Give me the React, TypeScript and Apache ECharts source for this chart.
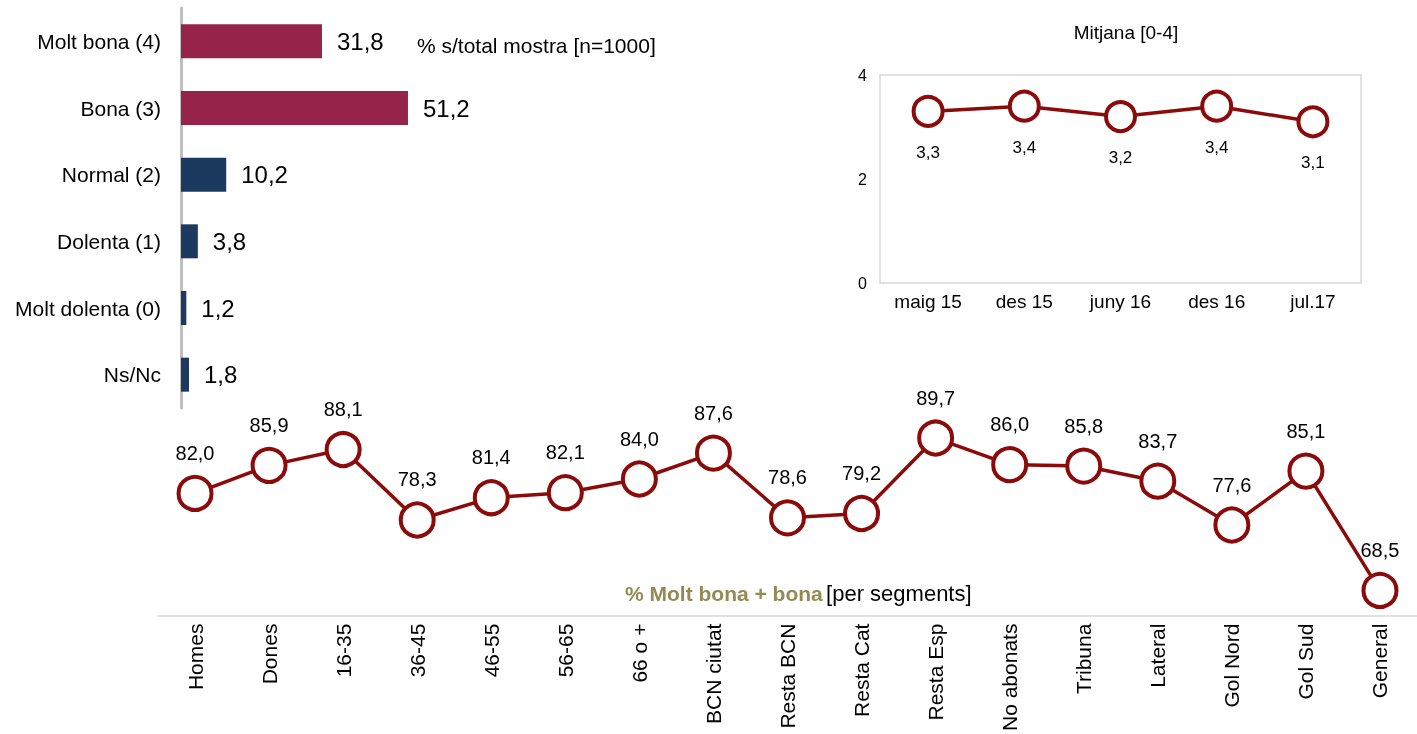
import React, { useEffect, useRef } from "react";
import * as echarts from "echarts";

const barCategories = ["Molt bona (4)", "Bona (3)", "Normal (2)", "Dolenta (1)", "Molt dolenta (0)", "Ns/Nc"];
const barValues = [31.8, 51.2, 10.2, 3.8, 1.2, 1.8];
const barColors = ["#96244A", "#96244A", "#1C3A60", "#1C3A60", "#1C3A60", "#1C3A60"];

const meanCategories = ["maig 15", "des 15", "juny 16", "des 16", "jul.17"];
const meanValues = [3.3, 3.4, 3.2, 3.4, 3.1];

const segCategories = [
  "Homes", "Dones", "16-35", "36-45", "46-55", "56-65", "66 o +", "BCN ciutat", "Resta BCN",
  "Resta Cat", "Resta Esp", "No abonats", "Tribuna", "Lateral", "Gol Nord", "Gol Sud", "General",
];
const segValues = [82.0, 85.9, 88.1, 78.3, 81.4, 82.1, 84.0, 87.6, 78.6, 79.2, 89.7, 86.0, 85.8, 83.7, 77.6, 85.1, 68.5];

const FONT = "Liberation Sans, Arial, sans-serif";
const RED = "#8B0A0A";
const fmt = (v: number) => v.toFixed(1).replace(".", ",");

export default function App() {
  const ref = useRef<HTMLDivElement>(null);
  useEffect(() => {
    if (!ref.current) return;
    const chart = echarts.init(ref.current, null, { renderer: "svg" });
    chart.setOption({
      animation: false,
      textStyle: { fontFamily: FONT, color: "#000" },
      grid: [
        { left: 181, top: 8, width: 266, height: 400 },
        { left: 880, top: 75, width: 481, height: 208, show: true, borderColor: "#D9D9D9", borderWidth: 1.5, backgroundColor: "transparent" },
        { left: 158, top: 364, width: 1272, height: 253 },
      ],
      xAxis: [
        { gridIndex: 0, type: "value", min: 0, max: 60, show: false },
        {
          gridIndex: 1, type: "category", data: meanCategories,
          axisLine: { show: false }, axisTick: { show: false }, splitLine: { show: false },
          axisLabel: { fontSize: 19, color: "#000", margin: 9, fontFamily: FONT },
        },
        {
          gridIndex: 2, type: "category", data: segCategories,
          axisLine: { show: true, lineStyle: { color: "#D9D9D9", width: 1.5 } },
          axisTick: { show: false },
          axisLabel: { fontSize: 21, color: "#000", rotate: 90, margin: 8, fontFamily: FONT, interval: 0 },
        },
      ],
      yAxis: [
        {
          gridIndex: 0, type: "category", data: barCategories, inverse: true,
          axisLine: { show: true, lineStyle: { color: "#BFBFBF", width: 3 } },
          axisTick: { show: false },
          axisLabel: { fontSize: 21, color: "#000", margin: 20, fontFamily: FONT },
        },
        {
          gridIndex: 1, type: "value", min: 0, max: 4, interval: 2,
          axisLine: { show: false }, axisTick: { show: false }, splitLine: { show: false },
          axisLabel: { fontSize: 16, color: "#000", margin: 13, fontFamily: FONT },
        },
        { gridIndex: 2, type: "value", min: 65, max: 100, show: false },
      ],
      series: [
        {
          type: "bar", xAxisIndex: 0, yAxisIndex: 0, barWidth: 34,
          data: barValues.map((v, i) => ({ value: v, itemStyle: { color: barColors[i] } })),
          label: {
            show: true, position: "right", distance: 15, fontSize: 24, color: "#000", fontFamily: FONT,
            formatter: (p: any) => fmt(p.value),
          },
        },
        {
          type: "line", xAxisIndex: 1, yAxisIndex: 1, data: meanValues,
          symbol: "circle", symbolSize: 29,
          lineStyle: { color: RED, width: 3.5 },
          itemStyle: { color: "#fff", borderColor: RED, borderWidth: 4 },
          label: {
            show: true, position: "bottom", distance: 16, fontSize: 17, color: "#000", fontFamily: FONT,
            formatter: (p: any) => fmt(p.value),
          },
        },
        {
          type: "line", xAxisIndex: 2, yAxisIndex: 2, data: segValues,
          symbol: "circle", symbolSize: 33,
          lineStyle: { color: RED, width: 3.5 },
          itemStyle: { color: "#fff", borderColor: RED, borderWidth: 4 },
          label: {
            show: true, position: "top", distance: 12, fontSize: 20, color: "#000", fontFamily: FONT,
            formatter: (p: any) => fmt(p.value),
          },
        },
      ],
      graphic: [
        {
          type: "text", x: 417, y: 45,
          style: { text: "% s/total mostra [n=1000]", fontSize: 21, fill: "#000", fontFamily: FONT, verticalAlign: "middle" },
        },
        {
          type: "text", x: 1126, y: 32,
          style: { text: "Mitjana [0-4]", fontSize: 19, fill: "#000", fontFamily: FONT, align: "center", verticalAlign: "middle" },
        },
        {
          type: "text", x: 625, y: 593,
          style: {
            text: "{b|% Molt bona + bona} {n|[per segments]}",
            fontFamily: FONT,
            verticalAlign: "middle",
            rich: {
              b: { fontSize: 21, fontWeight: "bold", fill: "#948A54", fontFamily: FONT },
              n: { fontSize: 22, fill: "#000", fontFamily: FONT },
            },
          },
        },
      ],
    });
    return () => chart.dispose();
  }, []);
  return <div ref={ref} style={{ position: "fixed", left: 0, top: 0, width: 1417, height: 734 }} />;
}
